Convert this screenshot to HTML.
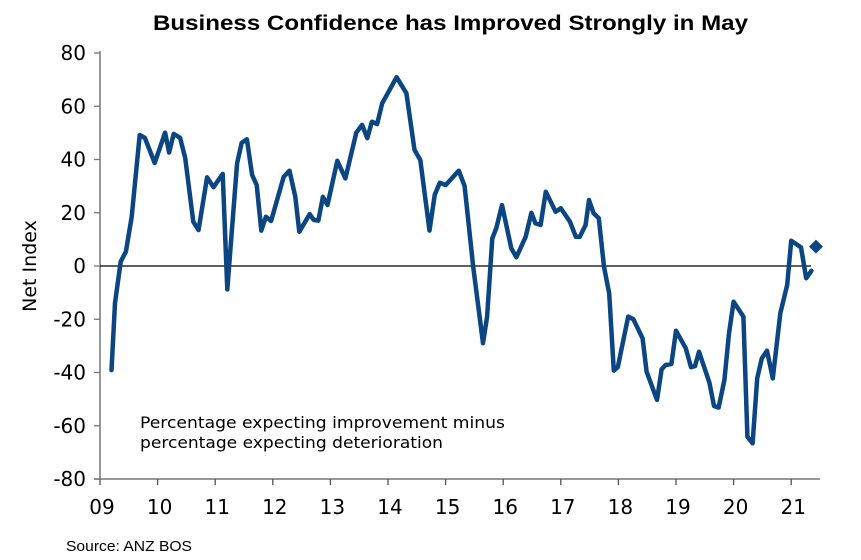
<!DOCTYPE html>
<html><head><meta charset="utf-8"><style>
html,body{margin:0;padding:0;background:#fff;}
svg{display:block;font-family:"DejaVu Sans","Liberation Sans",sans-serif;}
</style></head><body>
<svg id="chart" width="861" height="560" viewBox="0 0 861 560" xmlns="http://www.w3.org/2000/svg">
<text x="153" y="30" textLength="595" lengthAdjust="spacingAndGlyphs" font-family="Liberation Sans, sans-serif" font-weight="bold" font-size="21">Business Confidence has Improved Strongly in May</text>
<text transform="translate(36,266) rotate(-90)" text-anchor="middle" font-size="19">Net Index</text>
<g id="grid"></g>
<g id="series"></g>
<text x="140" y="428" textLength="365" lengthAdjust="spacingAndGlyphs" font-size="16">Percentage expecting improvement minus</text>
<text x="140" y="448" textLength="303" lengthAdjust="spacingAndGlyphs" font-size="16">percentage expecting deterioration</text>
<text x="66" y="551" textLength="126" lengthAdjust="spacingAndGlyphs" font-family="Liberation Sans, sans-serif" font-size="15">Source: ANZ BOS</text>
</svg>
<script>
const dates=[9.15,9.21,9.31,9.40,9.50,9.64,9.73,9.90,10.08,10.15,10.23,10.34,10.43,10.57,10.66,10.81,10.92,11.08,11.16,11.33,11.41,11.50,11.59,11.67,11.75,11.83,11.92,12.14,12.24,12.34,12.41,12.59,12.66,12.74,12.82,12.90,13.07,13.21,13.40,13.50,13.59,13.67,13.76,13.85,14.10,14.27,14.41,14.51,14.67,14.76,14.85,14.95,15.18,15.28,15.43,15.60,15.67,15.76,15.83,15.93,16.09,16.18,16.34,16.44,16.51,16.60,16.69,16.86,16.95,17.11,17.21,17.28,17.38,17.44,17.52,17.61,17.70,17.79,17.87,17.94,18.12,18.21,18.37,18.44,18.62,18.70,18.77,18.87,18.95,19.12,19.21,19.28,19.35,19.53,19.61,19.69,19.79,19.87,19.95,20.12,20.19,20.28,20.36,20.44,20.53,20.63,20.76,20.88,20.95,21.12,21.21,21.30];
const values=[-39.1,-13.9,1.6,5.4,18.5,49.2,48.1,38.7,50.1,42.6,49.6,48.1,40.6,16.6,13.5,33.3,29.6,34.6,-8.8,38.6,46.3,47.6,34.2,30.4,13.3,18.5,16.9,33.5,35.8,26.0,12.9,19.5,17.3,17.0,26.0,22.9,39.5,32.9,50.1,53.0,48.0,54.2,53.3,61.1,70.9,64.9,43.6,39.8,13.3,26.7,31.3,30.4,35.8,30.0,-0.3,-29.0,-19.0,10.4,14.2,22.9,6.6,3.3,11.0,20.0,16.0,15.4,27.9,20.4,21.7,16.6,11.0,11.0,15.4,24.8,19.8,17.9,-0.3,-10.3,-39.3,-38.0,-19.0,-20.0,-27.2,-39.7,-50.3,-38.8,-37.2,-36.8,-24.3,-30.9,-38.0,-37.6,-32.2,-43.8,-52.6,-53.2,-42.8,-25.3,-13.4,-19.0,-64.1,-66.6,-42.2,-34.7,-31.8,-42.2,-17.8,-7.1,9.5,7.0,-4.6,-1.8];
const latestDate=[21.38];
const latestValue=[7.3];
const yTicks=[80,60,40,20,0,-20,-40,-60,-80];
const xTickYears=[9,10,11,12,13,14,15,16,17,18,19,20,21];
const xTickLabels=["09","10","11","12","13","14","15","16","17","18","19","20","21"];

const NS="http://www.w3.org/2000/svg";
const X0=100,XW=57.6,Y0=266,YS=2.6625;
function x(yr){return X0+(yr-9+0.05)*XW;}
function xt(yr){return X0+(yr-9)*XW;}
function y(v){return Y0-v*YS;}
function mk(tag,attrs,parent){const e=document.createElementNS(NS,tag);for(const k in attrs)e.setAttribute(k,attrs[k]);parent.appendChild(e);return e;}
const grid=document.getElementById('grid');
const ser=document.getElementById('series');
let a=mk('line',{x1:X0,y1:y(80)-2,x2:X0,y2:y(-80),stroke:'#777','stroke-width':1.5},grid);


a=mk('line',{x1:X0-6,y1:y(-80),x2:820,y2:y(-80),stroke:'#777','stroke-width':1.5},grid);


a=mk('line',{x1:X0,y1:y(0),x2:811,y2:y(0),stroke:'#000','stroke-width':1.3},grid);


yTicks.forEach(v=>{
 const t=mk('line',{x1:X0-6,y1:y(v),x2:X0,y2:y(v),stroke:'#777','stroke-width':1.3},grid);
 
 
 const l=mk('text',{x:86,y:y(v)+7,'text-anchor':'end','font-size':20},grid);
 l.textContent=v;
 
 
});
xTickYears.forEach((yr,i)=>{
 const t=mk('line',{x1:xt(yr),y1:y(-80),x2:xt(yr),y2:y(-80)+6,stroke:'#555','stroke-width':1.3},grid);
 
 
 const l=mk('text',{x:xt(yr)+2,y:514,'text-anchor':'middle','font-size':20},grid);
 l.textContent=xTickLabels[i];
 
 
});
const pts=dates.map((d,i)=>x(d).toFixed(1)+','+y(values[i]).toFixed(1)).join(' ');
const pl=mk('polyline',{points:pts,fill:'none',stroke:'#0b4682','stroke-width':4.5,'stroke-linejoin':'round','stroke-linecap':'round'},ser);


latestDate.forEach((d,i)=>{
 const cx=x(d),cy=y(latestValue[i]);
 const dm=mk('polygon',{points:`${cx},${cy-7} ${cx+7},${cy} ${cx},${cy+7} ${cx-7},${cy}`,fill:'#0b4682'},ser);
 
 
});
</script>
</body></html>
